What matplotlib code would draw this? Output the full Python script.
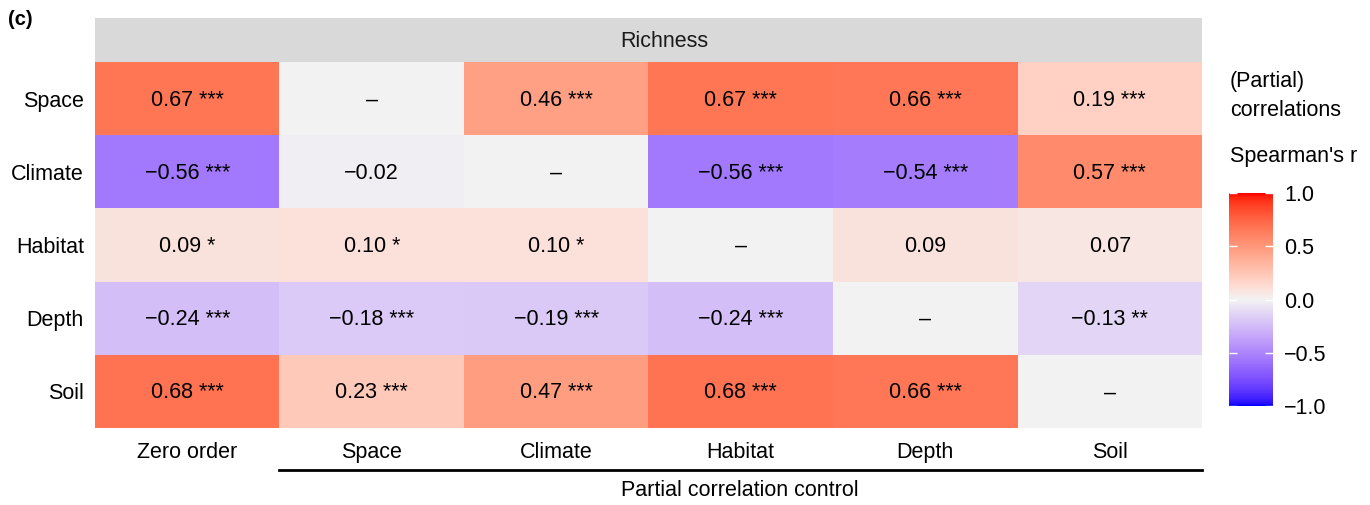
import matplotlib
matplotlib.use('Agg')
import matplotlib.pyplot as plt
import numpy as np
from matplotlib.colors import ListedColormap, Normalize, to_rgb

plt.rcParams['font.family'] = ['Liberation Sans', 'DejaVu Sans']

# 数据
rows = ['Space', 'Climate', 'Habitat', 'Depth', 'Soil']
cols = ['Zero order', 'Space', 'Climate', 'Habitat', 'Depth', 'Soil']
r_space = [0.67, np.nan, 0.46, 0.67, 0.66, 0.19]
r_climate = [-0.56, -0.02, np.nan, -0.56, -0.54, 0.57]
r_habitat = [0.09, 0.10, 0.10, np.nan, 0.09, 0.07]
r_depth = [-0.24, -0.18, -0.19, -0.24, np.nan, -0.13]
r_soil = [0.68, 0.23, 0.47, 0.68, 0.66, np.nan]
sig_space = ['***', '', '***', '***', '***', '***']
sig_climate = ['***', '', '', '***', '***', '***']
sig_habitat = ['*', '*', '*', '', '', '']
sig_depth = ['***', '***', '***', '***', '', '**']
sig_soil = ['***', '***', '***', '***', '***', '']

values = np.array([r_space, r_climate, r_habitat, r_depth, r_soil])
stars = [sig_space, sig_climate, sig_habitat, sig_depth, sig_soil]

FS = 15.5


# 蓝-白-红渐变, 在 Lab 空间插值
def srgb_to_lab(c):
    c = np.asarray(c, dtype=float)
    lin = np.where(c <= 0.04045, c / 12.92, ((c + 0.055) / 1.055) ** 2.4)
    M = np.array([[0.4124, 0.3576, 0.1805],
                  [0.2126, 0.7152, 0.0722],
                  [0.0193, 0.1192, 0.9505]])
    xyz = lin @ M.T / np.array([0.95047, 1.0, 1.08883])
    f = np.where(xyz > 0.008856, np.cbrt(xyz), 7.787 * xyz + 16 / 116)
    L = 116 * f[..., 1] - 16
    a = 500 * (f[..., 0] - f[..., 1])
    b = 200 * (f[..., 1] - f[..., 2])
    return np.stack([L, a, b], axis=-1)


def lab_to_srgb(lab):
    L, a, b = lab[..., 0], lab[..., 1], lab[..., 2]
    fy = (L + 16) / 116
    fx = fy + a / 500
    fz = fy - b / 200
    f = np.stack([fx, fy, fz], axis=-1)
    xyz = np.where(f ** 3 > 0.008856, f ** 3, (f - 16 / 116) / 7.787)
    xyz = xyz * np.array([0.95047, 1.0, 1.08883])
    Minv = np.array([[3.2406, -1.5372, -0.4986],
                     [-0.9689, 1.8758, 0.0415],
                     [0.0557, -0.2040, 1.0570]])
    lin = xyz @ Minv.T
    lin = np.clip(lin, 0, 1)
    c = np.where(lin <= 0.0031308, 12.92 * lin, 1.055 * lin ** (1 / 2.4) - 0.055)
    return np.clip(c, 0, 1)


low = srgb_to_lab(to_rgb('blue'))
mid = srgb_to_lab(to_rgb('#F2F2F2'))
high = srgb_to_lab(to_rgb('red'))
t = np.linspace(-1, 1, 256)
lab = np.array([mid + (high - mid) * v if v >= 0 else mid + (low - mid) * (-v) for v in t])
cmap = ListedColormap(lab_to_srgb(lab))
cmap.set_bad('#F2F2F2')
norm = Normalize(-1, 1)

fig = plt.figure(figsize=(13.7, 5.05), dpi=100)
ax = fig.add_axes([0.0693, 0.1525, 0.8081, 0.7248])
ax.pcolormesh(np.ma.masked_invalid(values), cmap=cmap, norm=norm, edgecolors='none')
ax.set_xlim(0, 6)
ax.set_ylim(5, 0)
for s in ax.spines.values():
    s.set_visible(False)
ax.set_xticks(np.arange(6) + 0.5)
ax.set_xticklabels(cols, fontsize=FS)
ax.set_yticks(np.arange(5) + 0.5)
ax.set_yticklabels(rows, fontsize=FS)
ax.tick_params(length=0, pad=8)
ax.tick_params(axis='x', pad=10)

for i in range(len(rows)):
    for j in range(len(cols)):
        v = values[i, j]
        if np.isnan(v):
            txt = '\u2013'
        else:
            txt = f'{v:.2f}'.replace('-', '\u2212')
            if stars[i][j]:
                txt += ' ' + stars[i][j]
        ax.text(j + 0.5, i + 0.52, txt, ha='center', va='center', fontsize=FS)

# 顶部标题条
strip = fig.add_axes([0.0693, 0.8772, 0.8081, 0.0871])
strip.set_facecolor('#D9D9D9')
strip.set_xticks([])
strip.set_yticks([])
for s in strip.spines.values():
    s.set_visible(False)
strip.text(0.514, 0.46, 'Richness', ha='center', va='center', fontsize=FS, color='#1A1A1A')

# 偏相关控制变量下方的横线
ax.plot([1, 6], [5.57, 5.57], color='black', lw=2, clip_on=False)
fig.text(0.540, 0.028, 'Partial correlation control', ha='center', va='center', fontsize=FS)

fig.text(0.006, 0.962, '(c)', fontsize=FS - 1, fontweight='bold', va='center')

# 图例
fig.text(0.8978, 0.838, '(Partial)', fontsize=FS, va='center')
fig.text(0.8978, 0.782, 'correlations', fontsize=FS, va='center')
fig.text(0.8978, 0.690, "Spearman's r", fontsize=FS, va='center')
cax = fig.add_axes([0.8971, 0.196, 0.0321, 0.4218])
sm = plt.cm.ScalarMappable(norm=norm, cmap=cmap)
cb = fig.colorbar(sm, cax=cax, ticks=[-1, -0.5, 0, 0.5, 1])
cb.outline.set_visible(False)
cb.ax.set_yticklabels(['\u22121.0', '\u22120.5', '0.0', '0.5', '1.0'])
cb.ax.tick_params(labelsize=FS, direction='in', color='white', length=6, width=1,
                  left=True, right=True, pad=8)

fig.savefig('out.png', dpi=100)
